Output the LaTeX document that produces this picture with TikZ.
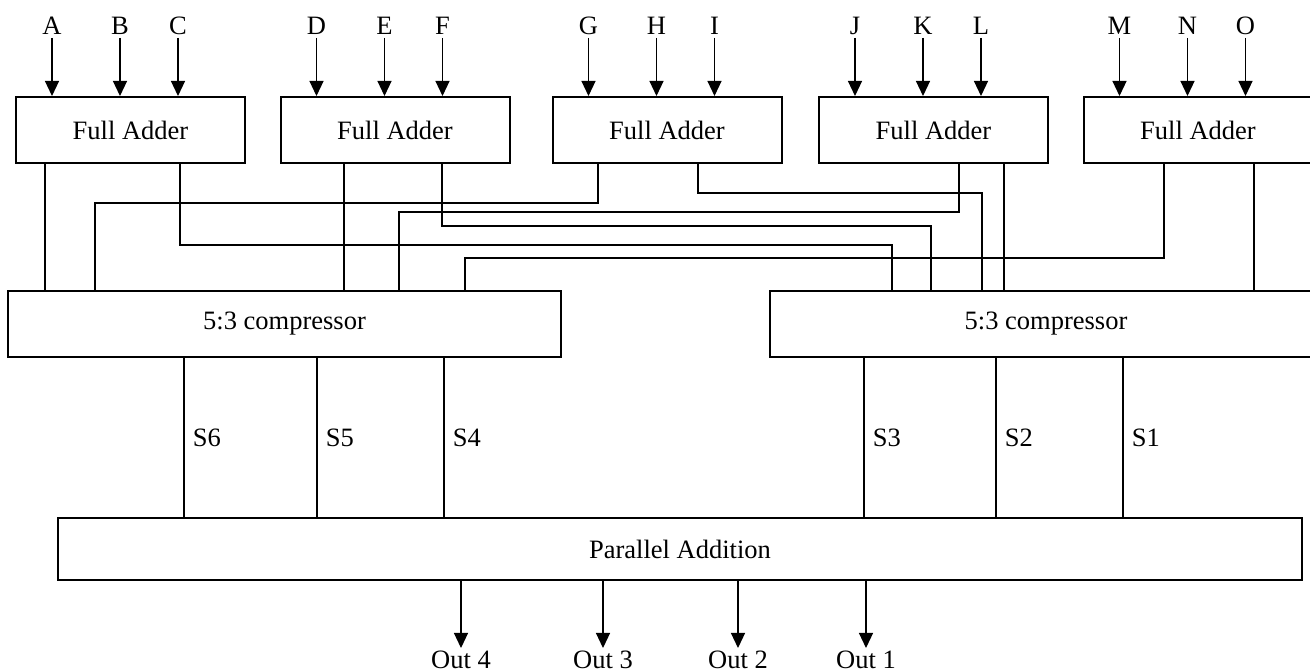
\documentclass[tikz,border=0pt]{standalone}
\usepackage{fontspec}
\setmainfont{Liberation Serif}
\usetikzlibrary{arrows.meta}

\begin{document}
\begin{tikzpicture}[
  x=1pt,y=1pt,
  every node/.style={font=\fontsize{26.5}{30}\selectfont},
  blk/.style={draw,line width=2pt,inner sep=0pt},
  fa/.style={blk,minimum width=229pt,minimum height=66pt},
  comp/.style={blk,minimum width=553pt,minimum height=66pt},
  wire/.style={line width=1.8pt},
  arr/.style={-{Triangle[length=15pt,width=14pt]},line width=1.2pt},
  lab/.style={inner sep=0pt}]
\useasboundingbox (0,0) rectangle (1310,672);
\clip (0,0) rectangle (1310,672);
% full adders
\node[fa] (fa1) at (130.5,542) {Full Adder};
\node[fa] (fa2) at (395,542) {Full Adder};
\node[fa] (fa3) at (667,542) {Full Adder};
\node[fa] (fa4) at (933.5,542) {Full Adder};
\node[fa] (fa5) at (1198,542) {Full Adder};
% compressors and final adder
\node[comp] (c1) at (284.5,348) {5:3 compressor};
\node[comp] (c2) at (1046,348) {5:3 compressor};
\node[blk,minimum width=1244pt,minimum height=62pt] (pa) at (680,123) {Parallel Addition};
% inputs
\foreach \f/\p/\q/\r in {fa1/A/B/C,fa2/D/E/F,fa3/G/H/I,fa4/J/K/L,fa5/M/N/O}
  \foreach \o/\t in {37/\p,105/\q,163/\r} {
    \node[lab,anchor=south] (in\t) at ([xshift=\o pt,yshift=61pt]\f.north west) {\t};
    \draw[arr,shorten <=3pt] (in\t) -- (in\t |- \f.north);
  }
% full adder outputs into the compressors
\foreach \s/\a/\lv/\b/\d in {fa1/45/450/45/c1,fa1/180/427/892/c2,
    fa2/344/450/344/c1,fa2/442/446/931/c2,fa3/598/469/95/c1,fa3/698/479/982/c2,
    fa4/959/460/399/c1,fa4/1004/450/1004/c2,fa5/1164/414/465/c1,fa5/1254/450/1254/c2}
  \draw[wire] (\s.south -| \a,0) |- (\b,\lv) -- (\d.north -| \b,0);
% sums
\foreach \c/\x/\t in {c1/184/S6,c1/317/S5,c1/444/S4,c2/864/S3,c2/996/S2,c2/1123/S1}
  \draw[wire] (\c.south -| \x,0) -- node[right,inner sep=8pt] (\t) {\t} (pa.north -| \x,0);
% outputs
\foreach \x/\n in {461/4,603/3,738/2,866/1} {
  \node[lab,anchor=north] (out\n) at (\x,21) {Out \n};
  \draw[arr,shorten >=3pt] (pa.south -| out\n) -- (out\n);
}
\end{tikzpicture}
\end{document}
